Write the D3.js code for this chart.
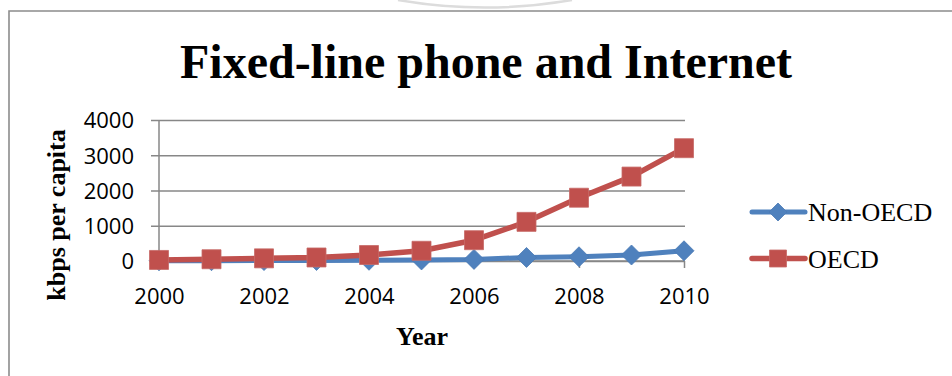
<!DOCTYPE html>
<html>
<head>
<meta charset="utf-8">
<script src="https://cdn.jsdelivr.net/npm/d3@7"></script>
<style>
  html, body { margin: 0; padding: 0; background: #fff; }
  svg { display: block; }
</style>
</head>
<body>
<svg id="chart" width="952" height="376"></svg>
<script>
const years = [2000, 2001, 2002, 2003, 2004, 2005, 2006, 2007, 2008, 2009, 2010];
const nonOECD = [5, 8, 12, 15, 20, 30, 45, 100, 120, 170, 290];
const OECD = [30, 50, 75, 100, 170, 290, 590, 1110, 1795, 2395, 3200];
const yTicks = [0, 1000, 2000, 3000, 4000];
const xTicks = [2000, 2002, 2004, 2006, 2008, 2010];
const seriesNames = ["Non-OECD", "OECD"];
const titleText = "Fixed-line phone and Internet";
const yLabel = "kbps per capita";
const xLabel = "Year";

const svg = d3.select("#chart");
const x = d3.scaleLinear().domain([2000, 2010]).range([159, 684]);
const y = d3.scaleLinear().domain([0, 4000]).range([261, 120]);

const gridColor = "#878787";
const blue = "#4F81BD", red = "#C0504D";

// outer frame + faint arc
svg.append("path").attr("d", "M9,376V11H952").attr("fill", "none")
  .attr("stroke", "#8c8c8c").attr("stroke-width", 1.6);
svg.append("path").attr("d", "M398,0Q485,15 572,0").attr("fill", "none")
  .attr("stroke", "#dcdcdc").attr("stroke-width", 2.5);

// title
svg.append("text").attr("x", 486).attr("y", 78).attr("text-anchor", "middle")
  .attr("font-family", "'Liberation Serif', 'Times New Roman', serif")
  .attr("font-weight", "bold").attr("font-size", 48).attr("fill", "#000")
  .text(titleText);

// y axis with gridlines
const yAxis = d3.axisLeft(y).tickValues(yTicks).tickSize(8).tickPadding(17)
  .tickFormat(d3.format("d"));
const gy = svg.append("g").attr("transform", "translate(159,0)").call(yAxis);
gy.select(".domain").remove();
gy.selectAll(".tick line").attr("stroke", gridColor).attr("stroke-width", 1.5)
  .attr("x1", -8).attr("x2", 526);
gy.selectAll(".tick text").attr("font-family", "'Open Sans', 'Liberation Sans', sans-serif")
  .attr("font-size", 22).attr("fill", "#000").attr("dy", "0.36em");
svg.append("line").attr("x1", 159).attr("x2", 159).attr("y1", y(4000)).attr("y2", y(0) + 1)
  .attr("stroke", gridColor).attr("stroke-width", 1.5);

// x axis
const xAxis = d3.axisBottom(x).tickValues(xTicks).tickSize(7).tickPadding(20)
  .tickFormat(d3.format("d"));
const gx = svg.append("g").attr("transform", `translate(0,${y(0)})`).call(xAxis);
gx.select(".domain").attr("stroke", gridColor).attr("stroke-width", 1.5)
  .attr("d", `M159,0H${x(2010) + 1}`);
gx.selectAll(".tick line").attr("stroke", gridColor).attr("stroke-width", 1.5);
gx.selectAll(".tick text").attr("font-family", "'Open Sans', 'Liberation Sans', sans-serif")
  .attr("font-size", 22).attr("fill", "#000");

// axis titles
svg.append("text").attr("transform", "translate(65,215) rotate(-90)")
  .attr("text-anchor", "middle")
  .attr("font-family", "'Liberation Serif', 'Times New Roman', serif")
  .attr("font-weight", "bold").attr("font-size", 26).attr("fill", "#000")
  .text(yLabel);
svg.append("text").attr("x", 422).attr("y", 345).attr("text-anchor", "middle")
  .attr("font-family", "'Liberation Serif', 'Times New Roman', serif")
  .attr("font-weight", "bold").attr("font-size", 26).attr("fill", "#000")
  .text(xLabel);

// markers
const diamondType = { draw(ctx, size) { const r = Math.sqrt(size) / 2; ctx.moveTo(0, -r); ctx.lineTo(r, 0); ctx.lineTo(0, r); ctx.lineTo(-r, 0); ctx.closePath(); } };
const squareType = { draw(ctx, size) { const r = Math.sqrt(size) / 2; ctx.rect(-r, -r, 2 * r, 2 * r); } };

const series = [
  { name: seriesNames[0], values: nonOECD, color: blue, width: 5, sym: d3.symbol().type(diamondType).size(20 * 20), stroke: "#4a7ab5" },
  { name: seriesNames[1], values: OECD, color: red, width: 5.5, sym: d3.symbol().type(squareType).size(19 * 19), stroke: "#c66a67" }
];

const line = d3.line().x((d, i) => x(years[i])).y(d => y(d));

series.forEach(s => {
  svg.append("path").datum(s.values).attr("d", line).attr("fill", "none")
    .attr("stroke", s.color).attr("stroke-width", s.width)
    .attr("stroke-linejoin", "round").attr("stroke-linecap", "round");
  svg.append("g").selectAll("path").data(s.values).join("path")
    .attr("transform", (d, i) => `translate(${x(years[i])},${y(d)})`)
    .attr("d", s.sym).attr("fill", s.color).attr("stroke", s.stroke).attr("stroke-width", 0.8);
});

// legend
const legend = svg.append("g");
series.forEach((s, i) => {
  const ly = 212 + i * 46.5;
  legend.append("line").attr("x1", 752).attr("x2", 805).attr("y1", ly).attr("y2", ly)
    .attr("stroke", s.color).attr("stroke-width", s.width).attr("stroke-linecap", "round");
  legend.append("path").attr("transform", `translate(778,${ly})`)
    .attr("d", i === 0 ? d3.symbol().type(diamondType).size(18 * 18) : d3.symbol().type(squareType).size(17 * 17))
    .attr("fill", s.color).attr("stroke", s.stroke).attr("stroke-width", 0.8);
  legend.append("text").attr("x", 808).attr("y", ly + 9).attr("font-family", "'Liberation Serif', 'Times New Roman', serif")
    .attr("font-size", 26).attr("fill", "#000").text(s.name);
});
</script>
</body>
</html>
